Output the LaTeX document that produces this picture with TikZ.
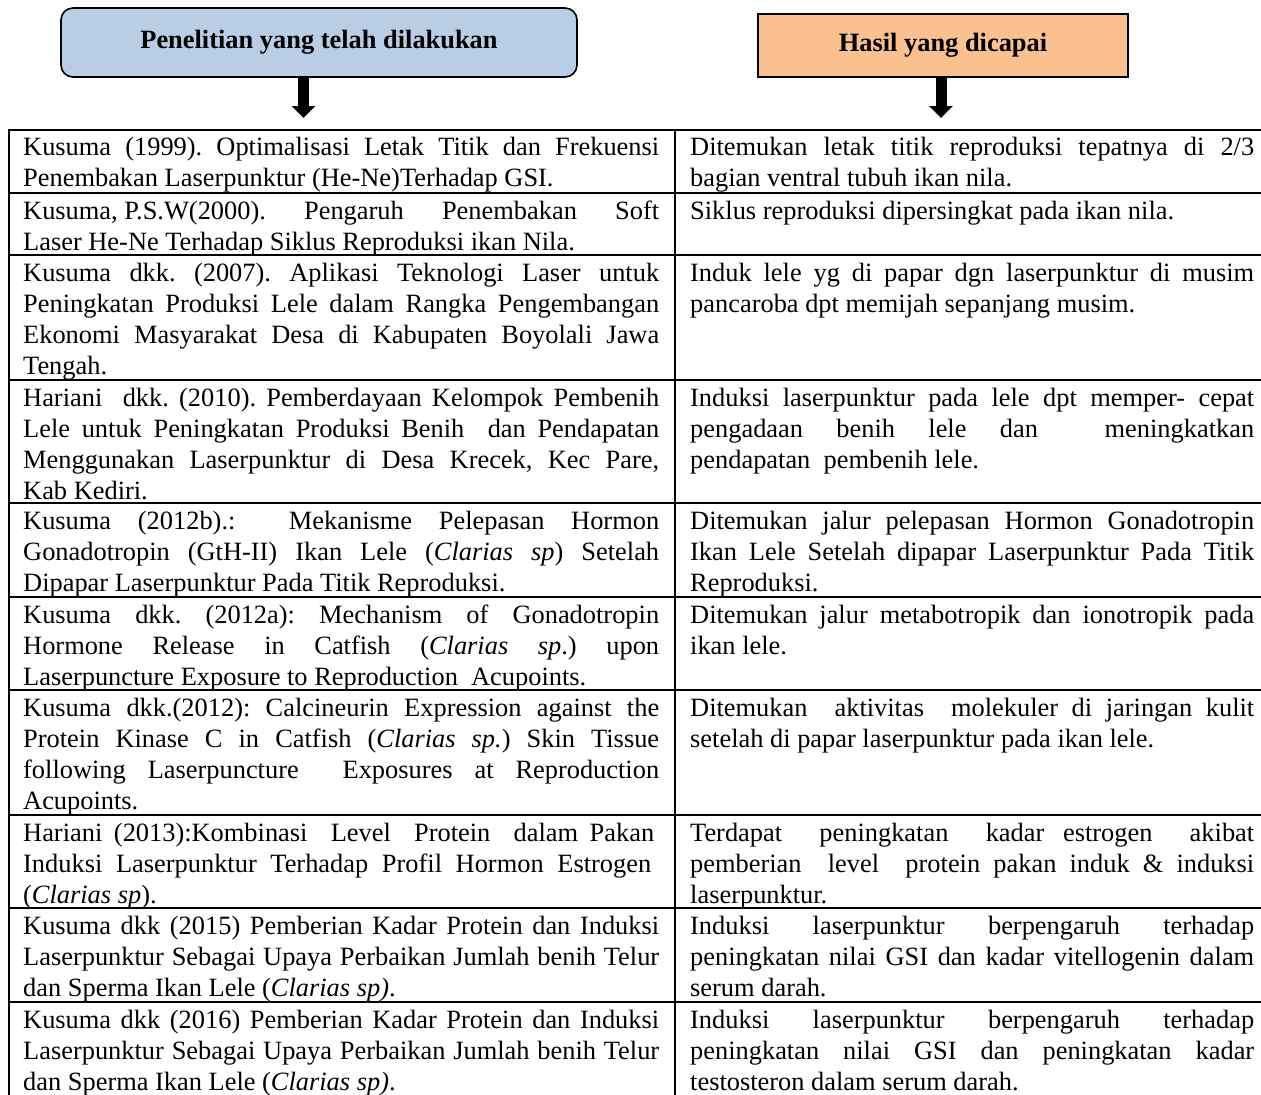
\documentclass[tikz,border=0pt]{standalone}
\usepackage{fontspec}
\setmainfont{Liberation Serif}
\usetikzlibrary{arrows.meta}
\frenchspacing
\newcommand\cellfont{\fontsize{26.4}{31}\selectfont\frenchspacing}
\newcommand\J[2][\hsize]{\hbox to #1{#2}}
\newcommand\Lx[1]{\hbox{#1}}
\newcommand\fsp{\hskip 0.25em\relax}
\newcommand\cellnode[5]{\node[cell] (#1) at (#2,#3+2) {\parbox[t]{#4}{\cellfont #5}};}
\definecolor{boxblue}{HTML}{B9CDE5}
\definecolor{boxpeach}{HTML}{FAC090}
\tikzset{
  cell/.style={inner sep=0pt, anchor=base west},
  headbox/.style={draw=black, line width=1.6pt, font=\fontsize{26.4}{31}\selectfont\bfseries, inner sep=0pt},
  grid/.style={line width=2pt, black},
  bigarrow/.style={line width=11pt, -{Triangle[width=23pt,length=12pt]}},
}
\begin{document}
\begin{tikzpicture}[x=1pt,y=-1pt]
\useasboundingbox (0,0) rectangle (1261,1095);
% header boxes
\node[headbox, fill=boxblue, rounded corners=12pt, minimum width=516pt, minimum height=69pt] (lbox) at (319,42.5) {Penelitian yang telah dilakukan};
\node[headbox, fill=boxpeach, minimum width=370pt, minimum height=63pt] (rbox) at (943,45.5) {Hasil yang dicapai};
\coordinate (la) at (303.5,118);
\coordinate (ra) at (941,118);
\draw[bigarrow] (lbox.south -| la) -- (la);
\draw[bigarrow] (rbox.south -| ra) -- (ra);
% table grid
\foreach \y in {129.5,193,255,380,503,597,690,815,908,1002}
  \draw[grid] (8,\y) -- (1262,\y);
\draw[grid] (9,128.5) -- (9,1096);
\draw[grid] (675,128.5) -- (675,1096);
% left column
\cellnode{l1}{23}{153}{636pt}{\J{Kusuma (1999). Optimalisasi Letak Titik dan Frekuensi}\Lx{Penembakan Laserpunktur (He-Ne)Terhadap GSI.}}
\cellnode{l2}{23}{217}{636pt}{\J{Kusuma,\fsp P.S.W(2000). Pengaruh Penembakan Soft}\Lx{Laser He-Ne Terhadap Siklus Reproduksi ikan Nila.}}
\cellnode{l3}{23}{279}{636pt}{\J{Kusuma dkk. (2007). Aplikasi Teknologi Laser untuk}\J{Peningkatan Produksi Lele dalam Rangka Pengembangan}\J{Ekonomi Masyarakat Desa di Kabupaten Boyolali Jawa}\Lx{Tengah.}}
\cellnode{l4}{23}{404}{636pt}{\J{Hariani\ \ dkk. (2010). Pemberdayaan Kelompok Pembenih}\J{Lele untuk Peningkatan Produksi Benih\ \ dan Pendapatan}\J{Menggunakan Laserpunktur di Desa Krecek, Kec Pare,}\Lx{Kab Kediri.}}
\cellnode{l5}{23}{527}{636pt}{\J{Kusuma (2012b).:\ \ Mekanisme Pelepasan Hormon}\J{Gonadotropin (GtH-II) Ikan Lele (\textit{Clarias sp}) Setelah}\Lx{Dipapar Laserpunktur Pada Titik Reproduksi.}}
\cellnode{l6}{23}{621}{636pt}{\J{Kusuma dkk. (2012a): Mechanism of Gonadotropin}\J{Hormone Release in Catfish (\textit{Clarias sp}.) upon}\Lx{Laserpuncture Exposure to Reproduction\ \ Acupoints.}}
\cellnode{l7}{23}{714}{636pt}{\J{Kusuma dkk.(2012): Calcineurin Expression against the}\J{Protein Kinase C in Catfish (\textit{Clarias sp.}) Skin Tissue}\J{following Laserpuncture\ \ Exposures at Reproduction}\Lx{Acupoints.}}
\cellnode{l8}{23}{839}{636pt}{\J[631pt]{Hariani (2013):Kombinasi\ \ Level\ \ Protein\ \ dalam Pakan}\J[628pt]{Induksi Laserpunktur Terhadap Profil Hormon Estrogen}\Lx{(\textit{Clarias sp}).}}
\cellnode{l9}{23}{932}{636pt}{\J{Kusuma dkk (2015) Pemberian Kadar Protein dan Induksi}\J{Laserpunktur Sebagai Upaya Perbaikan Jumlah benih Telur}\Lx{dan Sperma Ikan Lele (\textit{Clarias sp)}.}}
\cellnode{l10}{23}{1026}{636pt}{\J{Kusuma dkk (2016) Pemberian Kadar Protein dan Induksi}\J{Laserpunktur Sebagai Upaya Perbaikan Jumlah benih Telur}\Lx{dan Sperma Ikan Lele (\textit{Clarias sp)}.}}
% right column
\cellnode{r1}{690}{153}{564pt}{\J{Ditemukan letak titik reproduksi tepatnya di 2/3}\Lx{bagian ventral tubuh ikan nila.}}
\cellnode{r2}{690}{217}{564pt}{\Lx{Siklus reproduksi dipersingkat pada ikan nila.}}
\cellnode{r3}{690}{279}{564pt}{\J{Induk lele yg di papar dgn laserpunktur di musim}\Lx{pancaroba dpt memijah sepanjang musim.}}
\cellnode{r4}{690}{404}{564pt}{\J{Induksi laserpunktur pada lele dpt memper- cepat}\J{pengadaan benih lele dan\ \ meningkatkan}\Lx{pendapatan\ \ pembenih lele.}}
\cellnode{r5}{690}{527}{564pt}{\J{Ditemukan jalur pelepasan Hormon Gonadotropin}\J{Ikan Lele Setelah dipapar Laserpunktur Pada Titik}\Lx{Reproduksi.}}
\cellnode{r6}{690}{621}{564pt}{\J{Ditemukan jalur metabotropik dan ionotropik pada}\Lx{ikan lele.}}
\cellnode{r7}{690}{714}{564pt}{\J{Ditemukan\ \ aktivitas\ \ molekuler di jaringan kulit}\Lx{setelah di papar laserpunktur pada ikan lele.}}
\cellnode{r8}{690}{839}{564pt}{\J{Terdapat\ \ peningkatan\ \ kadar estrogen\ \ akibat}\J{pemberian\ \ level\ \ protein pakan induk \& induksi}\Lx{laserpunktur.}}
\cellnode{r9}{690}{932}{564pt}{\J{Induksi laserpunktur berpengaruh terhadap}\J{peningkatan nilai GSI dan kadar vitellogenin dalam}\Lx{serum darah.}}
\cellnode{r10}{690}{1026}{564pt}{\J{Induksi laserpunktur berpengaruh terhadap}\J{peningkatan nilai GSI dan peningkatan kadar}\Lx{testosteron dalam serum darah.}}
\end{tikzpicture}
\end{document}
